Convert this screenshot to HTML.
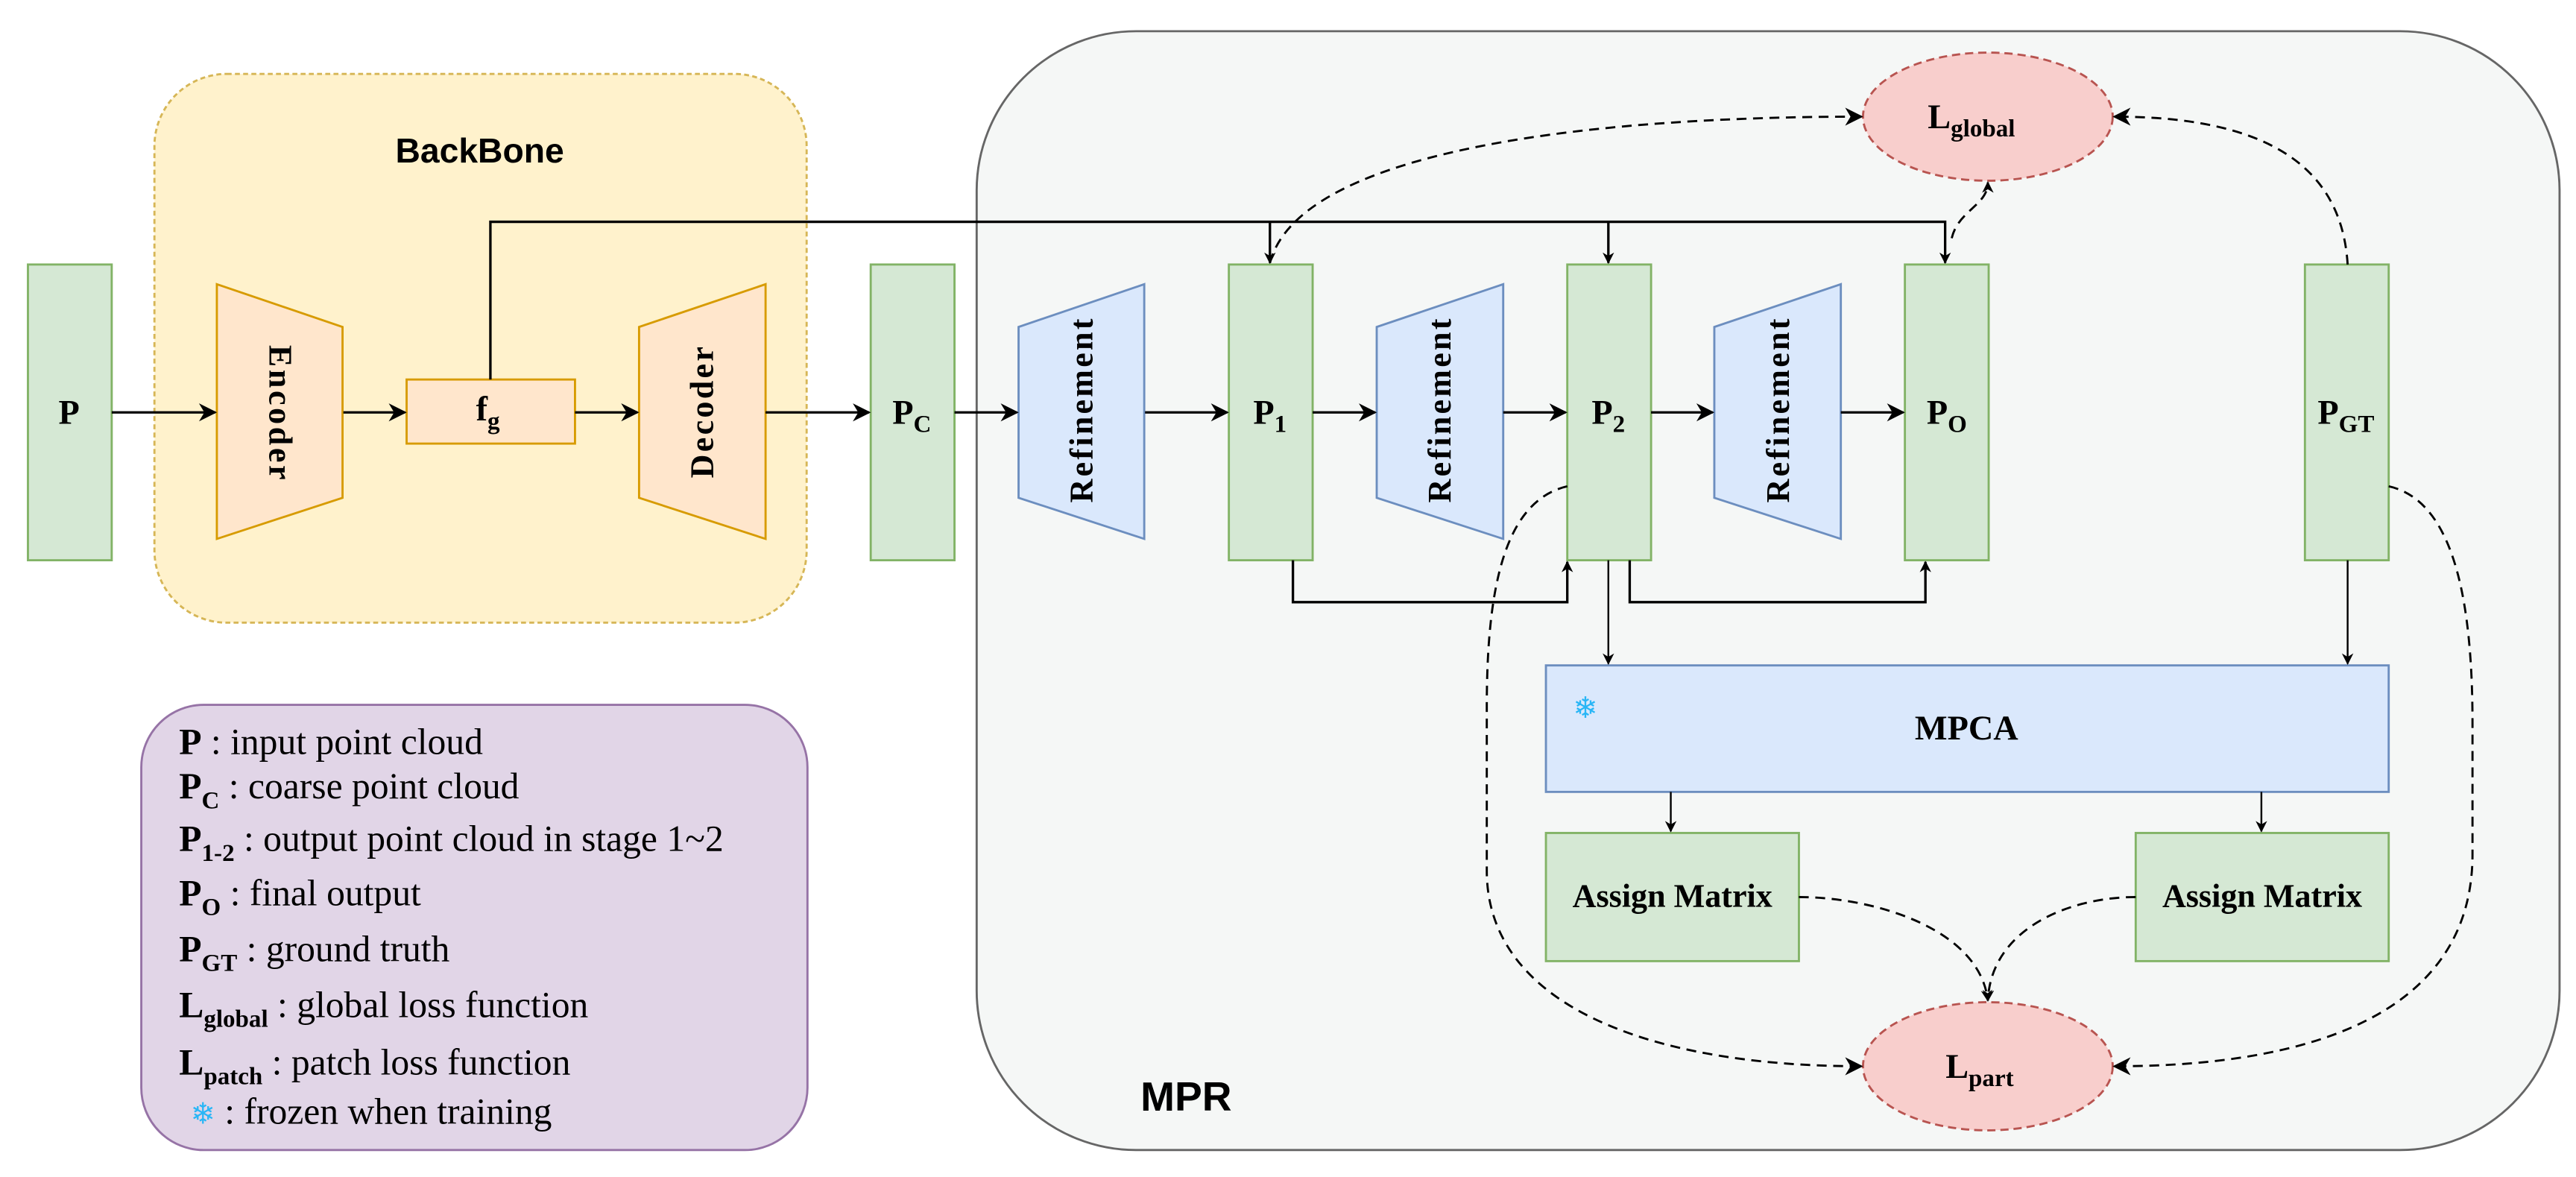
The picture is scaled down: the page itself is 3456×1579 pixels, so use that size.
<!DOCTYPE html>
<html><head><meta charset="utf-8"><style>html,body{margin:0;padding:0;background:#fff}svg{display:block}.s{font-family:"Liberation Serif",serif}</style></head>
<body>
<svg xmlns="http://www.w3.org/2000/svg" width="3456" height="1579" viewBox="0 0 1568 716.4">
<defs>
<marker id="a" viewBox="0 0 10 10" refX="9" refY="5" markerWidth="7" markerHeight="7" markerUnits="userSpaceOnUse" orient="auto"><path d="M0,0 L10,5 L0,10 L3,5 z" fill="#000"/></marker>
<marker id="b" viewBox="0 0 10 10" refX="9" refY="5" markerWidth="11" markerHeight="11" markerUnits="userSpaceOnUse" orient="auto"><path d="M0,0 L10,5 L0,10 L3,5 z" fill="#000"/></marker>
</defs>
<g class="s">
<rect x="94" y="45" width="397" height="334" rx="44" fill="#fff2cc" stroke="#d6b656" stroke-width="1.3" stroke-dasharray="3,2"/>
<text x="292" y="99" style="font-family:'Liberation Sans',sans-serif" font-weight="bold" font-size="21" text-anchor="middle">BackBone</text>
<rect x="594.5" y="19" width="963.5" height="681" rx="97" fill="#f5f7f6" stroke="#666" stroke-width="1.3"/>
<text x="722" y="676" style="font-family:'Liberation Sans',sans-serif" font-weight="bold" font-size="25" text-anchor="middle">MPR</text>
<rect x="86" y="429" width="405.5" height="271" rx="38" fill="#e1d5e7" stroke="#9673a6" stroke-width="1.3"/>
<g font-size="22.5">
<text x="109" y="459"><tspan font-weight="bold">P</tspan> : input point cloud</text>
<text x="109" y="486"><tspan font-weight="bold">P<tspan font-size="15" dy="6">C</tspan></tspan><tspan dy="-6"> : coarse point cloud</tspan></text>
<text x="109" y="518"><tspan font-weight="bold">P<tspan font-size="15" dy="6">1-2</tspan></tspan><tspan dy="-6"> : output point cloud in stage 1~2</tspan></text>
<text x="109" y="551"><tspan font-weight="bold">P<tspan font-size="15" dy="6">O</tspan></tspan><tspan dy="-6"> : final output</tspan></text>
<text x="109" y="585"><tspan font-weight="bold">P<tspan font-size="15" dy="6">GT</tspan></tspan><tspan dy="-6"> : ground truth</tspan></text>
<text x="109" y="619"><tspan font-weight="bold">L<tspan font-size="15" dy="6">global</tspan></tspan><tspan dy="-6"> : global loss function</tspan></text>
<text x="109" y="654"><tspan font-weight="bold">L<tspan font-size="15" dy="6">patch</tspan></tspan><tspan dy="-6"> : patch loss function</tspan></text>
<text x="116" y="684"><tspan fill="#29b6f6" style="font-family:'DejaVu Sans',sans-serif" font-size="18">❄</tspan> : frozen when training</text>
</g>
<g fill="#d5e8d4" stroke="#82b366" stroke-width="1.3">
<rect x="17" y="161" width="51" height="180"/>
<rect x="530" y="161" width="51" height="180"/>
<rect x="748" y="161" width="51" height="180"/>
<rect x="954" y="161" width="51" height="180"/>
<rect x="1159.5" y="161" width="51" height="180"/>
<rect x="1403" y="161" width="51" height="180"/>
<rect x="941" y="507" width="154" height="78"/>
<rect x="1300" y="507" width="154" height="78"/>
</g>
<g font-weight="bold" font-size="21" text-anchor="middle">
<text x="42" y="258">P</text>
<text x="555" y="258">P<tspan font-size="15" dy="5">C</tspan></text>
<text x="773" y="258">P<tspan font-size="15" dy="5">1</tspan></text>
<text x="979" y="258">P<tspan font-size="15" dy="5">2</tspan></text>
<text x="1185" y="258">P<tspan font-size="15" dy="5">O</tspan></text>
<text x="1428" y="258">P<tspan font-size="15" dy="5">GT</tspan></text>
<text x="1018" y="552" font-size="20">Assign Matrix</text>
<text x="1377" y="552" font-size="20">Assign Matrix</text>
</g>
<g fill="#ffe6cc" stroke="#d79b00" stroke-width="1.3">
<polygon points="132,173 208.5,199 208.5,303 132,328"/>
<polygon points="389,199 466,173 466,328 389,303"/>
<rect x="247.5" y="231" width="102.5" height="39"/>
</g>
<text x="297" y="256" font-size="21" font-weight="bold" text-anchor="middle">f<tspan font-size="15" dy="5">g</tspan></text>
<text transform="translate(164,251) rotate(90)" font-size="20" font-weight="bold" text-anchor="middle" textLength="82" lengthAdjust="spacing">Encoder</text>
<text transform="translate(434,251) rotate(-90)" font-size="20" font-weight="bold" text-anchor="middle" textLength="80" lengthAdjust="spacing">Decoder</text>
<g fill="#dae8fc" stroke="#6c8ebf" stroke-width="1.3">
<polygon points="620,199 696.5,173 696.5,328 620,303"/>
<polygon points="838,199 915,173 915,328 838,303"/>
<polygon points="1043.5,199 1120.5,173 1120.5,328 1043.5,303"/>
</g>
<g font-size="20" font-weight="bold" text-anchor="middle">
<text transform="translate(665,250) rotate(-90)" textLength="112" lengthAdjust="spacing">Refinement</text>
<text transform="translate(883,250) rotate(-90)" textLength="112" lengthAdjust="spacing">Refinement</text>
<text transform="translate(1089,250) rotate(-90)" textLength="112" lengthAdjust="spacing">Refinement</text>
</g>
<rect x="941" y="405" width="513" height="77" fill="#dae8fc" stroke="#6c8ebf" stroke-width="1.3"/>
<text x="1197" y="450" font-size="21" font-weight="bold" text-anchor="middle">MPCA</text>
<text x="965" y="437" style="font-family:'DejaVu Sans',sans-serif" font-size="18" fill="#29b6f6" text-anchor="middle">❄</text>
<ellipse cx="1210" cy="71" rx="76" ry="39" fill="#f8cecc" stroke="#b85450" stroke-width="1.3" stroke-dasharray="5,3"/>
<text x="1200" y="78" font-size="21" font-weight="bold" text-anchor="middle">L<tspan font-size="15" dy="5">global</tspan></text>
<ellipse cx="1210" cy="649" rx="76" ry="39" fill="#f8cecc" stroke="#b85450" stroke-width="1.3" stroke-dasharray="5,3"/>
<text x="1205" y="656" font-size="21" font-weight="bold" text-anchor="middle">L<tspan font-size="15" dy="5">part</tspan></text>
</g>
<g fill="none" stroke="#000" stroke-width="1.5">
<line x1="68" y1="251" x2="131" y2="251" marker-end="url(#b)"/>
<line x1="209" y1="251" x2="246.5" y2="251" marker-end="url(#b)"/>
<line x1="350" y1="251" x2="388" y2="251" marker-end="url(#b)"/>
<line x1="466" y1="251" x2="529" y2="251" marker-end="url(#b)"/>
<line x1="581" y1="251" x2="619" y2="251" marker-end="url(#b)"/>
<line x1="697" y1="251" x2="747" y2="251" marker-end="url(#b)"/>
<line x1="799" y1="251" x2="837" y2="251" marker-end="url(#b)"/>
<line x1="915" y1="251" x2="953" y2="251" marker-end="url(#b)"/>
<line x1="1005" y1="251" x2="1042.5" y2="251" marker-end="url(#b)"/>
<line x1="1120.5" y1="251" x2="1158.5" y2="251" marker-end="url(#b)"/>
<polyline points="298.5,231 298.5,135 1184,135 1184,160" marker-end="url(#a)"/>
<line x1="773" y1="135" x2="773" y2="160" marker-end="url(#a)"/>
<line x1="979" y1="135" x2="979" y2="160" marker-end="url(#a)"/>
<polyline points="787,341 787,366.5 954,366.5 954,342" marker-end="url(#a)"/>
<polyline points="992,341 992,366.5 1172,366.5 1172,342" marker-end="url(#a)"/>
</g>
<g fill="none" stroke="#000" stroke-width="1.1">
<line x1="979" y1="341" x2="979" y2="404" marker-end="url(#a)"/>
<line x1="1429" y1="341" x2="1429" y2="404" marker-end="url(#a)"/>
<line x1="1017" y1="482" x2="1017" y2="506" marker-end="url(#a)"/>
<line x1="1376.5" y1="482" x2="1376.5" y2="506" marker-end="url(#a)"/>
</g>
<g fill="none" stroke="#000" stroke-width="1.3" stroke-dasharray="6,4">
<path d="M773,160 C790,95 950,71 1133,71" marker-end="url(#b)"/>
<path d="M1429,161 C1425,95 1370,71 1287,71" marker-end="url(#b)"/>
<path d="M1188,145 C1192,128 1210,125 1210,111" marker-end="url(#a)"/>
<path d="M954,296 C915,305 905,360 905,430 L905,530 C905,610 1000,649 1133,649" marker-end="url(#b)"/>
<path d="M1454,296 C1495,305 1505,370 1505,440 L1505,520 C1505,610 1420,649 1287,649" marker-end="url(#b)"/>
<path d="M1095,546 C1140,546 1205,565 1210,609" marker-end="url(#a)"/>
<path d="M1300,546 C1260,546 1212,565 1210,609" marker-end="url(#a)"/>
</g>
</svg>
</body></html>
